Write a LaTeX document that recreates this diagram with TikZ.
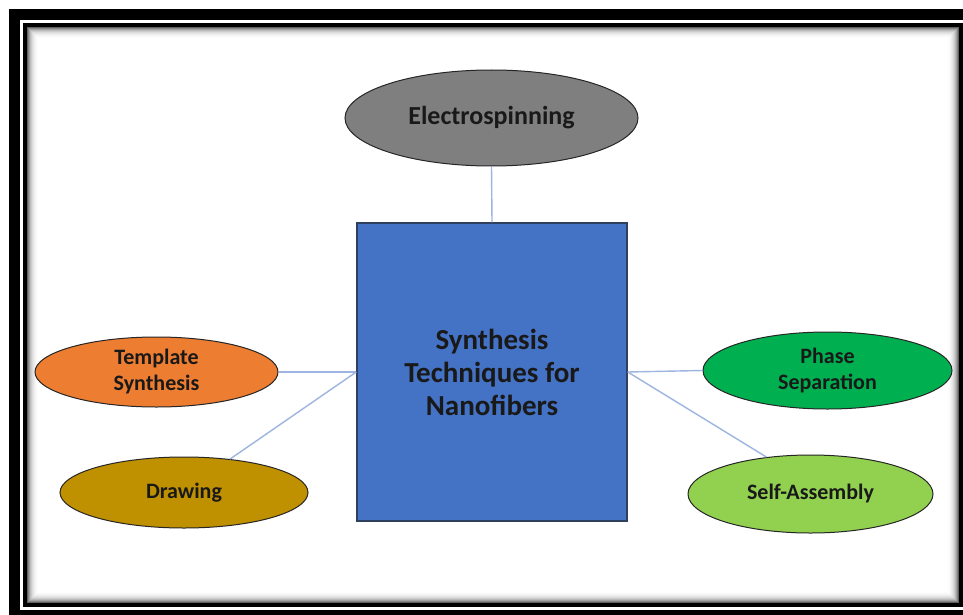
\documentclass[tikz,border=0pt]{standalone}
\usepackage{fontspec}
\setmainfont{Carlito}
\usetikzlibrary{shapes.geometric}

\definecolor{techgray}{HTML}{7F7F7F}
\definecolor{techorange}{HTML}{ED7D31}
\definecolor{techgold}{HTML}{BF9000}
\definecolor{techgreen}{HTML}{00B050}
\definecolor{techlime}{HTML}{92D050}
\definecolor{techblue}{HTML}{4472C4}
\definecolor{boxedge}{HTML}{2F3F5F}
\definecolor{linkblue}{HTML}{9DB5E0}

\tikzset{
  method/.style={ellipse, draw=black!85, line width=1pt, inner sep=0pt,
    align=center, text=black!90, font=\bfseries\fontsize{22}{26}\selectfont},
  hub/.style={rectangle, draw=boxedge, line width=1.5pt, fill=techblue, inner sep=0pt,
    align=center, text=black!90, font=\bfseries\fontsize{29}{33}\selectfont},
  link/.style={draw=linkblue, line width=1.4pt}
}

\begin{document}
\begin{tikzpicture}[x=1pt, y=-1pt]
  \useasboundingbox (0,0) rectangle (963,615);
  \clip (0,0) rectangle (963,615);

  % double frame with an inner shadow
  \fill[black] (9,9) rectangle (980,630);
  \fill[white] (20,20) rectangle (975,610);
  \fill[black] (23,23) rectangle (963,607);
  \foreach \i/\g in {0/62,1/48,2/36,3/27,4/20,5/14,6/10,7/7,8/4,9/2,10/1,11/0}
    \fill[black!\g!white] (27+\i,27+\i) rectangle (959-\i,603-\i);

  % central box
  \node[hub, minimum width=270pt, minimum height=298pt] (hub) at (492,372)
    {Synthesis\\Techniques for\\Nanofibers};

  % methods
  \node[method, fill=techgray, minimum width=293pt, minimum height=96pt,
        font=\bfseries\fontsize{26}{30}\selectfont] (elec) at (491.5,118) {Electrospinning};
  \node[method, fill=techorange, minimum width=243pt, minimum height=70pt] (temp) at (156.5,372)
    {Template\\Synthesis};
  \node[method, fill=techgold, minimum width=248pt, minimum height=71pt] (draw) at (184,492.5)
    {Drawing};
  \node[method, fill=techgreen, minimum width=249pt, minimum height=77pt] (phase) at (827.5,370.5)
    {Phase\\Separation};
  \node[method, fill=techlime, minimum width=245pt, minimum height=78pt] (self) at (810.5,494)
    {Self-Assembly};

  % connectors
  \path[link] (elec.south) -- (hub.north);
  \path[link] (temp.east) -- (hub.west);
  \path[link] (draw.36) -- (hub.west);
  \path[link] (hub.east) -- (phase.west);
  \path[link] (hub.east) -- (self.140);
\end{tikzpicture}
\end{document}
